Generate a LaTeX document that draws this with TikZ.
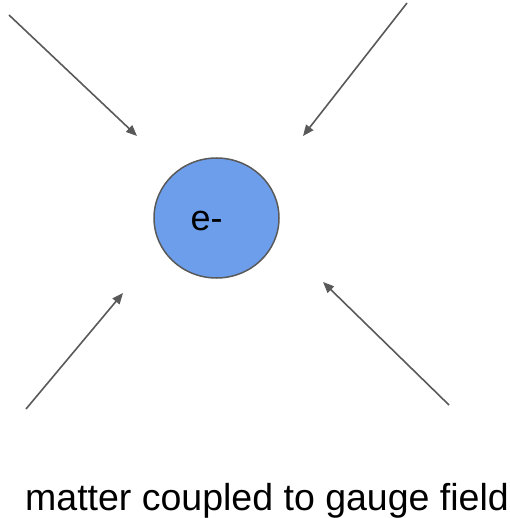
\documentclass[tikz,border=0pt]{standalone}
\usepackage{fontspec}
\setmainfont{Liberation Sans}
\usetikzlibrary{arrows.meta,shapes.geometric}
\definecolor{ballblue}{HTML}{6D9EEB}
\definecolor{linegray}{HTML}{595959}
\tikzset{
  ball/.style={ellipse, draw=linegray, fill=ballblue, line width=1.5pt, minimum width=125pt, minimum height=120pt, inner sep=0pt},
  field/.style={draw=linegray, line width=1.6pt, -{Triangle[length=11pt,width=9pt]}},
  lbl/.style={inner sep=0pt, text=black}
}
\begin{document}
\begin{tikzpicture}[x=1pt,y=-1pt]
\useasboundingbox (0,0) rectangle (509,518);
\node[ball] (e) at (216.5,218) {};
\node[lbl, anchor=base west, font=\fontsize{36}{43}\selectfont] (et) at (190.5,230) {e-};
\coordinate (a1) at (9,15);   \coordinate (b1) at (137,136);
\coordinate (a2) at (407,3);  \coordinate (b2) at (303,136);
\coordinate (a3) at (26,409); \coordinate (b3) at (123,293);
\coordinate (a4) at (449,405);\coordinate (b4) at (323,282);
\draw[field] (a1) -- (b1);
\draw[field] (a2) -- (b2);
\draw[field] (a3) -- (b3);
\draw[field] (a4) -- (b4);
\node[lbl, anchor=base, font=\fontsize{37.5}{45}\selectfont] (cap) at (267,510.5) {matter coupled to gauge field};
\end{tikzpicture}
\end{document}
